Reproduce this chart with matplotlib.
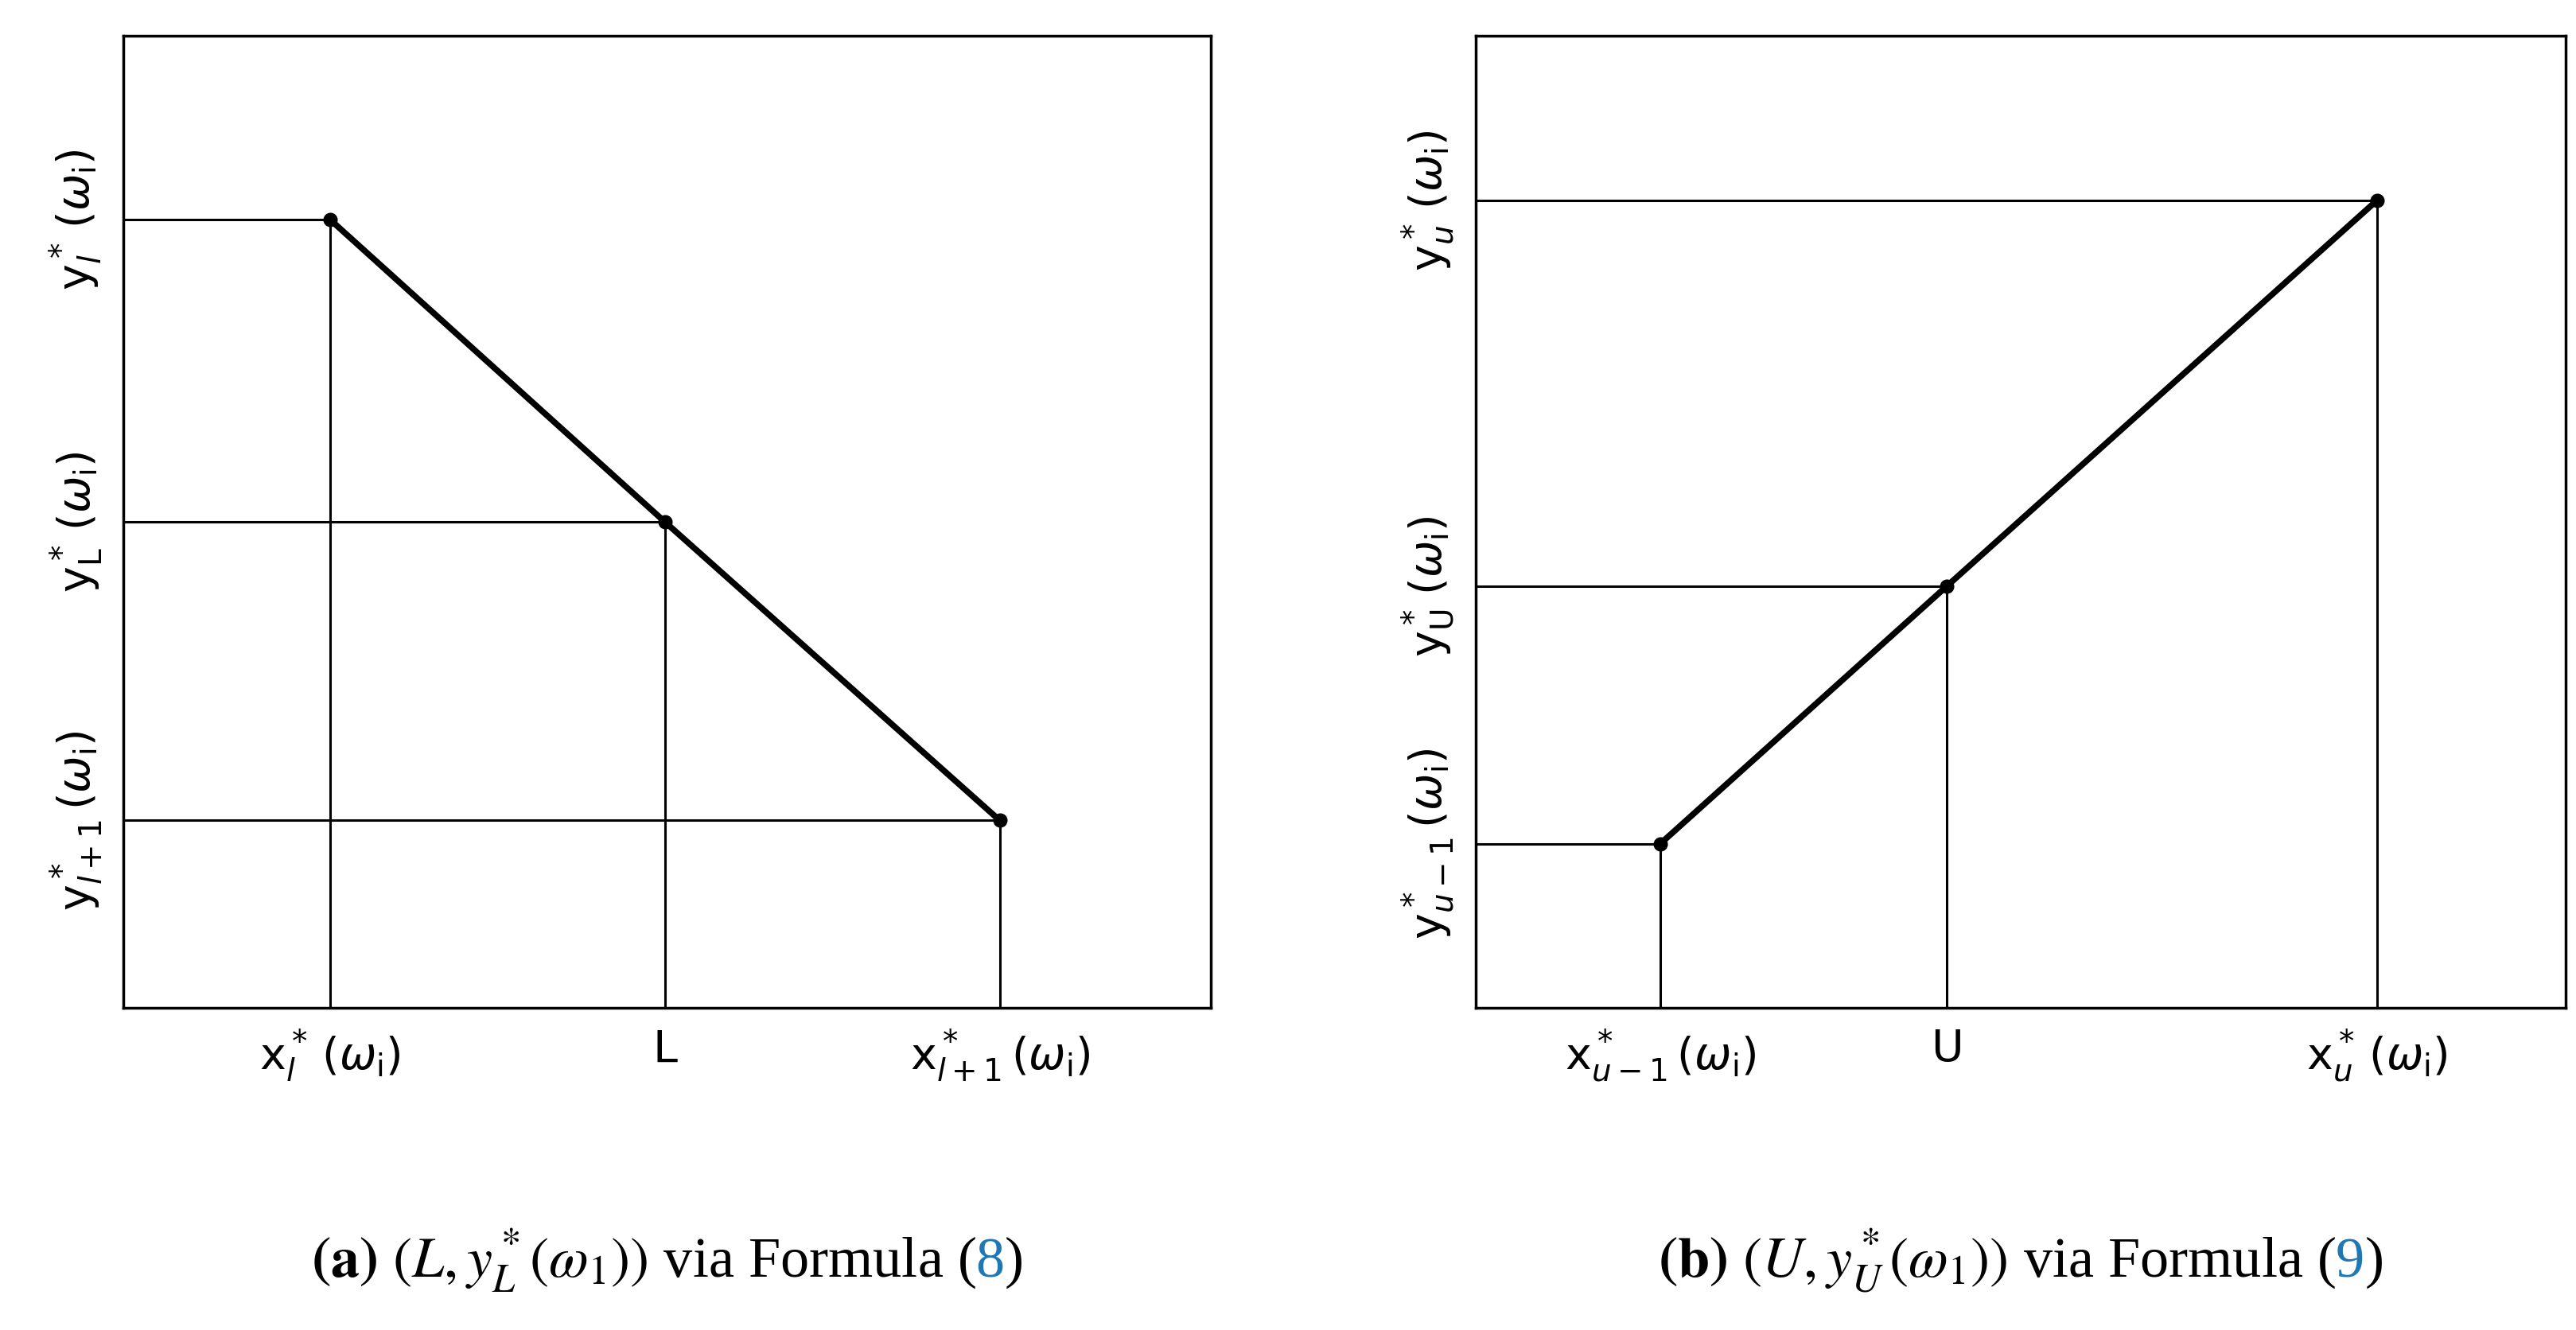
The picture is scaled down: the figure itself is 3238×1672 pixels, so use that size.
import matplotlib
matplotlib.use("Agg")
import matplotlib.pyplot as plt

plt.rcParams['mathtext.fontset'] = 'custom'
plt.rcParams['mathtext.rm'] = 'DejaVu Sans'
plt.rcParams['mathtext.it'] = 'DejaVu Sans:italic'
plt.rcParams['font.family'] = 'DejaVu Sans'

# panel a: three points on a falling line
xa = [0.19, 0.498, 0.806]
ya = [0.811, 0.500, 0.193]
xa_labels = [r"$\mathrm{x}^*_{l}\,(\omega_\mathrm{i})$", "L", r"$\mathrm{x}^*_{l+1}\,(\omega_\mathrm{i})$"]
ya_labels = [r"$\mathrm{y}^*_{l+1}\,(\omega_\mathrm{i})$", r"$\mathrm{y}^*_\mathrm{L}\,(\omega_\mathrm{i})$", r"$\mathrm{y}^*_{l}\,(\omega_\mathrm{i})$"]

# panel b: three points on a rising line
xb = [0.169, 0.432, 0.827]
yb = [0.169, 0.434, 0.831]
xb_labels = [r"$\mathrm{x}^*_{u-1}\,(\omega_\mathrm{i})$", "U", r"$\mathrm{x}^*_{u}\,(\omega_\mathrm{i})$"]
yb_labels = [r"$\mathrm{y}^*_{u-1}\,(\omega_\mathrm{i})$", r"$\mathrm{y}^*_\mathrm{U}\,(\omega_\mathrm{i})$", r"$\mathrm{y}^*_{u}\,(\omega_\mathrm{i})$"]

fig = plt.figure(figsize=(32.38, 16.72), dpi=100)
ax1 = fig.add_axes([0.048, 0.242, 0.422, 0.731])
ax2 = fig.add_axes([0.573, 0.242, 0.423, 0.731])


def panel(ax, xs, ys, xl, yl):
    for x, y in zip(xs, ys):
        ax.plot([0, x], [y, y], color='black', lw=2.2)
        ax.plot([x, x], [0, y], color='black', lw=2.2)
    ax.plot(xs, ys, color='black', lw=5.5, marker='o', markersize=12)
    ax.set_xlim(0, 1)
    ax.set_ylim(0, 1)
    ax.set_xticks(xs)
    ax.set_xticklabels(xl, fontsize=40)
    yorder = sorted(range(3), key=lambda i: ys[i])
    ax.set_yticks([ys[i] for i in yorder])
    ax.set_yticklabels(yl, fontsize=40, rotation=90, va='center')
    ax.tick_params(length=0, pad=18)
    for s in ax.spines.values():
        s.set_linewidth(2.5)


panel(ax1, xa, ya, xa_labels, ya_labels)
panel(ax2, xb, yb, xb_labels, yb_labels)

# captions, with the formula number in blue
renderer = fig.canvas.get_renderer()
caps = [(0.259, r"$\mathbf{(a)}$ $(L, y^*_L(\omega_1))$ via Formula (", "8"),
        (0.7845, r"$\mathbf{(b)}$ $(U, y^*_U(\omega_1))$ via Formula (", "9")]
for cx, head, num in caps:
    kw = dict(fontsize=52, family='Liberation Serif', math_fontfamily='stix', va='baseline')
    t1 = fig.text(0, 0.04, head, **kw)
    t2 = fig.text(0, 0.04, num, color='#1f77b4', **kw)
    t3 = fig.text(0, 0.04, ")", **kw)
    w1 = t1.get_window_extent(renderer).width
    w2 = t2.get_window_extent(renderer).width
    w3 = t3.get_window_extent(renderer).width
    W = fig.bbox.width
    x0 = cx * W - (w1 + w2 + w3) / 2
    t1.set_x(x0 / W)
    t2.set_x((x0 + w1) / W)
    t3.set_x((x0 + w1 + w2) / W)

fig.savefig("out.png", dpi=100)
